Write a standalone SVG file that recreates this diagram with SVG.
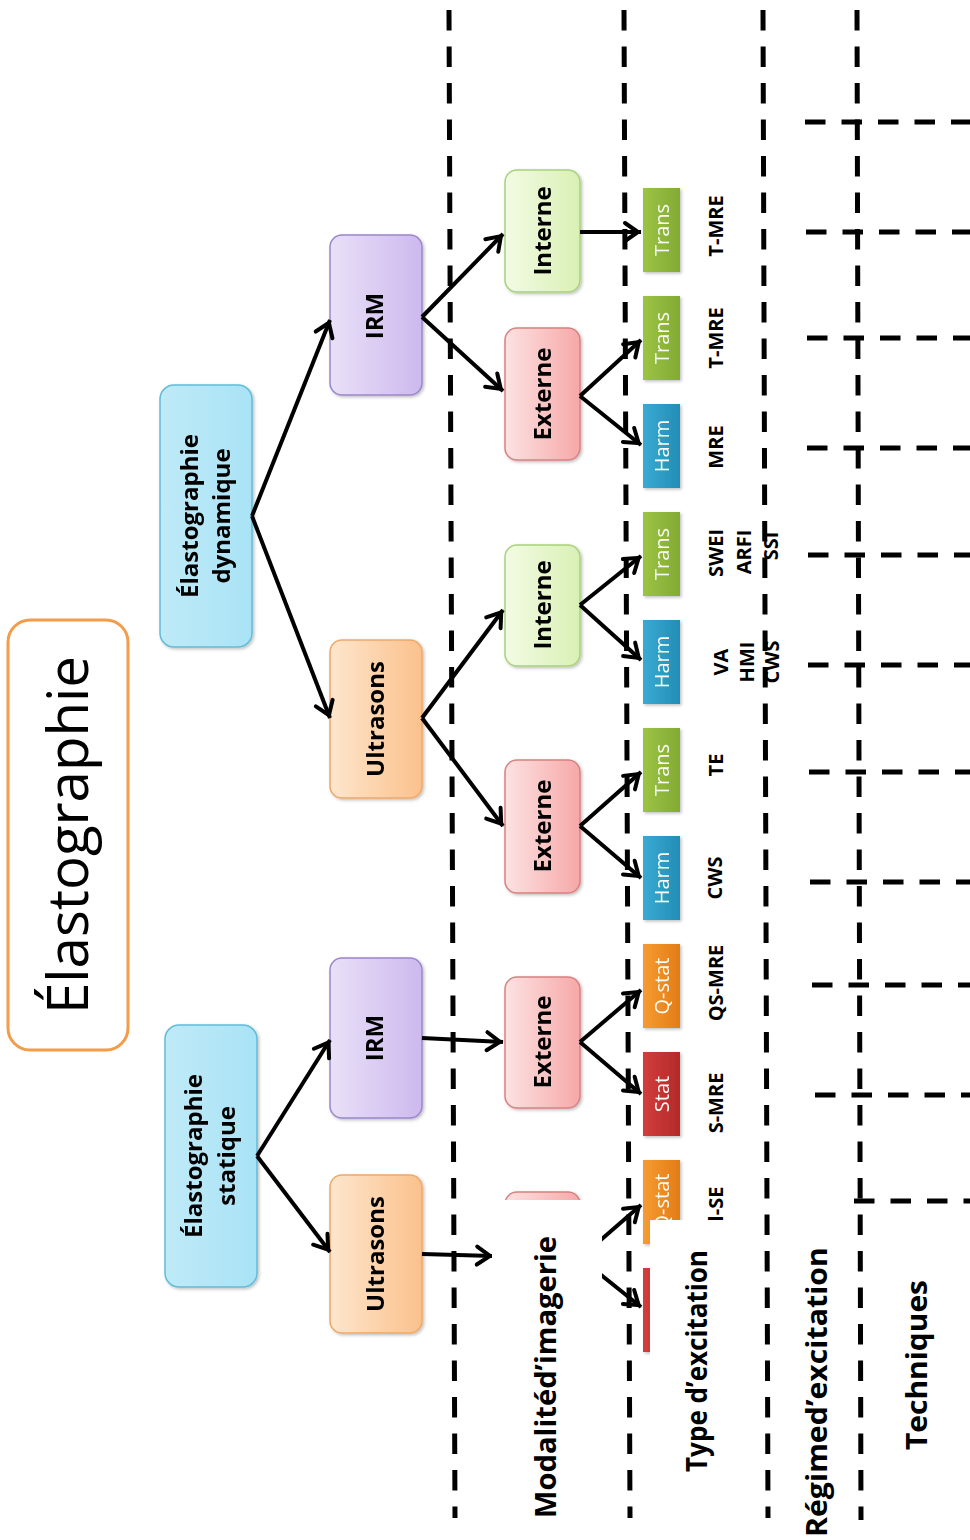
<svg xmlns="http://www.w3.org/2000/svg" width="970" height="1540" viewBox="0 0 970 1540">
<style>
.dash{stroke:#000;stroke-width:5;stroke-dasharray:20.5 16;fill:none}
.arr{stroke:#000;stroke-width:4;fill:none;marker-end:url(#ah)}
.nt{font-family:"Open Sans","Noto Sans","Liberation Sans",sans-serif;font-weight:bold;font-size:24px;fill:#000;text-anchor:middle}
.st{font-family:"Open Sans","Noto Sans","Liberation Sans",sans-serif;font-size:20px;fill:#fbfbf4;text-anchor:middle}
.tq{font-family:"Open Sans","Noto Sans","Liberation Sans",sans-serif;font-weight:bold;font-size:20px;fill:#000;text-anchor:middle}
.lb{font-family:"Open Sans","Noto Sans","Liberation Sans",sans-serif;font-weight:bold;font-size:28px;fill:#000;text-anchor:middle}
.cy{fill:url(#gCy);stroke:#62bcd8;stroke-width:1.5}
.pu{fill:url(#gPu);stroke:#9a86cc;stroke-width:1.5}
.or{fill:url(#gOr);stroke:#eea868;stroke-width:1.5}
.gr{fill:url(#gGr);stroke:#a8d27a;stroke-width:1.5}
.pk{fill:url(#gPk);stroke:#d98080;stroke-width:1.5}
.tr{fill:url(#gTr)}
.hm{fill:url(#gHm)}
.qs{fill:url(#gQs)}
.sa{fill:url(#gSa)}
</style>
<defs>
<linearGradient id="gCy" x1="0" y1="0" x2="1" y2="0"><stop offset="0" stop-color="#bfeaf7"/><stop offset="1" stop-color="#a9e3f6"/></linearGradient>
<linearGradient id="gPu" x1="0" y1="0" x2="1" y2="0"><stop offset="0" stop-color="#e9e0f8"/><stop offset="1" stop-color="#cdb9ee"/></linearGradient>
<linearGradient id="gOr" x1="0" y1="0" x2="1" y2="0"><stop offset="0" stop-color="#fde6cd"/><stop offset="1" stop-color="#fbc18c"/></linearGradient>
<linearGradient id="gGr" x1="0" y1="0" x2="1" y2="0"><stop offset="0" stop-color="#f3fbe4"/><stop offset="1" stop-color="#d9f0b4"/></linearGradient>
<linearGradient id="gPk" x1="0" y1="0" x2="1" y2="0"><stop offset="0" stop-color="#fde2e2"/><stop offset="1" stop-color="#f6a8a8"/></linearGradient>
<linearGradient id="gTr" x1="0" y1="0" x2="1" y2="0"><stop offset="0" stop-color="#9bc446"/><stop offset="1" stop-color="#83aa33"/></linearGradient>
<linearGradient id="gHm" x1="0" y1="0" x2="1" y2="0"><stop offset="0" stop-color="#3aaad2"/><stop offset="1" stop-color="#238db6"/></linearGradient>
<linearGradient id="gQs" x1="0" y1="0" x2="1" y2="0"><stop offset="0" stop-color="#f69b32"/><stop offset="1" stop-color="#e27d16"/></linearGradient>
<linearGradient id="gSa" x1="0" y1="0" x2="1" y2="0"><stop offset="0" stop-color="#d23d3d"/><stop offset="1" stop-color="#b32a2a"/></linearGradient>
<filter id="sh" x="-20%" y="-20%" width="140%" height="140%"><feDropShadow dx="1.5" dy="1.5" stdDeviation="1.5" flood-color="#000" flood-opacity="0.25"/></filter>
<marker id="ah" viewBox="-18 -10 20 20" markerWidth="20" markerHeight="20" refX="0" refY="0" orient="auto" markerUnits="userSpaceOnUse" overflow="visible">
<path d="M-16,-9 L-3,0 L-16,9" fill="none" stroke="#000" stroke-width="4" stroke-linejoin="miter" stroke-linecap="round"/>
</marker>
</defs>
<rect width="970" height="1540" fill="#fff"/>

<g id="grid">
<line class="dash" x1="449" y1="10" x2="455" y2="1518"/>
<line class="dash" x1="624" y1="10" x2="630" y2="1518"/>
<line class="dash" x1="763" y1="10" x2="768" y2="1518"/>
<line class="dash" x1="857" y1="10" x2="861" y2="1520"/>
<line class="dash" x1="805" y1="122" x2="975" y2="122"/>
<line class="dash" x1="806" y1="232" x2="975" y2="232"/>
<line class="dash" x1="807" y1="338" x2="975" y2="338"/>
<line class="dash" x1="807" y1="448" x2="975" y2="448"/>
<line class="dash" x1="808" y1="555" x2="975" y2="555"/>
<line class="dash" x1="808" y1="665" x2="975" y2="665"/>
<line class="dash" x1="809" y1="772" x2="975" y2="772"/>
<line class="dash" x1="810" y1="882" x2="975" y2="882"/>
<line class="dash" x1="812" y1="985" x2="975" y2="985"/>
<line class="dash" x1="815" y1="1095" x2="975" y2="1095"/>
<line class="dash" x1="854" y1="1201" x2="975" y2="1201"/>
</g>

<g id="title">
<rect x="8" y="620" width="120" height="430" rx="22" fill="#fff" stroke="#f39c4a" stroke-width="3"/>
<text transform="translate(88,835) rotate(-90)" font-family="'Open Sans','Noto Sans','Liberation Sans',sans-serif" font-size="57" text-anchor="middle" textLength="358" lengthAdjust="spacingAndGlyphs">Élastographie</text>
</g>

<g id="n-dyn" filter="url(#sh)">
<rect class="cy" x="160" y="385" width="92" height="262" rx="14"/>
<text class="nt" transform="translate(198,516) rotate(-90)">Élastographie</text>
<text class="nt" transform="translate(230,516) rotate(-90)">dynamique</text>
</g>
<g id="n-stat" filter="url(#sh)">
<rect class="cy" x="165" y="1025" width="92" height="262" rx="14"/>
<text class="nt" transform="translate(202,1156) rotate(-90)">Élastographie</text>
<text class="nt" transform="translate(235,1156) rotate(-90)">statique</text>
</g>

<g id="n-irm1" filter="url(#sh)">
<rect class="pu" x="330" y="235" width="92" height="160" rx="12"/>
<text class="nt" transform="translate(383,316) rotate(-90)">IRM</text>
</g>
<g id="n-us1" filter="url(#sh)">
<rect class="or" x="330" y="640" width="92" height="158" rx="12"/>
<text class="nt" transform="translate(384,719) rotate(-90)">Ultrasons</text>
</g>
<g id="n-irm2" filter="url(#sh)">
<rect class="pu" x="330" y="958" width="92" height="160" rx="12"/>
<text class="nt" transform="translate(383,1038) rotate(-90)">IRM</text>
</g>
<g id="n-us2" filter="url(#sh)">
<rect class="or" x="330" y="1175" width="92" height="158" rx="12"/>
<text class="nt" transform="translate(384,1254) rotate(-90)">Ultrasons</text>
</g>

<g id="n-int1" filter="url(#sh)">
<rect class="gr" x="505" y="170" width="75" height="122" rx="12"/>
<text class="nt" transform="translate(551,231) rotate(-90)">Interne</text>
</g>
<g id="n-ext1" filter="url(#sh)">
<rect class="pk" x="505" y="328" width="75" height="132" rx="12"/>
<text class="nt" transform="translate(551,394) rotate(-90)">Externe</text>
</g>
<g id="n-int2" filter="url(#sh)">
<rect class="gr" x="505" y="545" width="75" height="121" rx="12"/>
<text class="nt" transform="translate(551,605) rotate(-90)">Interne</text>
</g>
<g id="n-ext2" filter="url(#sh)">
<rect class="pk" x="505" y="760" width="75" height="133" rx="12"/>
<text class="nt" transform="translate(551,826) rotate(-90)">Externe</text>
</g>
<g id="n-ext3" filter="url(#sh)">
<rect class="pk" x="505" y="977" width="75" height="131" rx="12"/>
<text class="nt" transform="translate(551,1042) rotate(-90)">Externe</text>
</g>
<g id="n-ext4" filter="url(#sh)">
<rect class="pk" x="505" y="1192" width="75" height="130" rx="12"/>
</g>

<g id="n-t1" filter="url(#sh)"><rect class="tr" x="643" y="188" width="37" height="84"/><text class="st" transform="translate(669,230) rotate(-90)">Trans</text></g>
<g id="n-t2" filter="url(#sh)"><rect class="tr" x="643" y="296" width="37" height="84"/><text class="st" transform="translate(669,338) rotate(-90)">Trans</text></g>
<g id="n-h1" filter="url(#sh)"><rect class="hm" x="643" y="404" width="37" height="84"/><text class="st" transform="translate(669,446) rotate(-90)">Harm</text></g>
<g id="n-t3" filter="url(#sh)"><rect class="tr" x="643" y="512" width="37" height="84"/><text class="st" transform="translate(669,554) rotate(-90)">Trans</text></g>
<g id="n-h2" filter="url(#sh)"><rect class="hm" x="643" y="620" width="37" height="84"/><text class="st" transform="translate(669,662) rotate(-90)">Harm</text></g>
<g id="n-t4" filter="url(#sh)"><rect class="tr" x="643" y="728" width="37" height="84"/><text class="st" transform="translate(669,770) rotate(-90)">Trans</text></g>
<g id="n-h3" filter="url(#sh)"><rect class="hm" x="643" y="836" width="37" height="84"/><text class="st" transform="translate(669,878) rotate(-90)">Harm</text></g>
<g id="n-q1" filter="url(#sh)"><rect class="qs" x="643" y="944" width="37" height="84"/><text class="st" transform="translate(669,986) rotate(-90)">Q-stat</text></g>
<g id="n-s1" filter="url(#sh)"><rect class="sa" x="643" y="1052" width="37" height="84"/><text class="st" transform="translate(669,1094) rotate(-90)">Stat</text></g>
<g id="n-q2" filter="url(#sh)"><rect class="qs" x="643" y="1160" width="37" height="84"/><text class="st" transform="translate(669,1202) rotate(-90)">Q-stat</text></g>
<g id="n-s2" filter="url(#sh)"><rect class="sa" x="643" y="1268" width="37" height="84"/></g>

<g id="connectors">
<line class="arr" x1="252" y1="516" x2="330" y2="320"/>
<line class="arr" x1="252" y1="516" x2="330" y2="718"/>
<line class="arr" x1="422" y1="317" x2="503" y2="234"/>
<line class="arr" x1="422" y1="317" x2="503" y2="391"/>
<line class="arr" x1="422" y1="718" x2="503" y2="610"/>
<line class="arr" x1="422" y1="718" x2="503" y2="826"/>
<line class="arr" x1="580" y1="232" x2="641" y2="232"/>
<line class="arr" x1="580" y1="396" x2="641" y2="340"/>
<line class="arr" x1="580" y1="396" x2="641" y2="445"/>
<line class="arr" x1="580" y1="605" x2="641" y2="556"/>
<line class="arr" x1="580" y1="605" x2="641" y2="660"/>
<line class="arr" x1="580" y1="826" x2="641" y2="772"/>
<line class="arr" x1="580" y1="826" x2="641" y2="878"/>
<line class="arr" x1="257" y1="1156" x2="330" y2="1040"/>
<line class="arr" x1="257" y1="1156" x2="330" y2="1252"/>
<line class="arr" x1="422" y1="1038" x2="503" y2="1042"/>
<line class="arr" x1="580" y1="1042" x2="641" y2="990"/>
<line class="arr" x1="580" y1="1042" x2="641" y2="1094"/>
<line class="arr" x1="422" y1="1254" x2="493" y2="1256"/>
<line class="arr" x1="580" y1="1258" x2="641" y2="1205"/>
<line class="arr" x1="580" y1="1258" x2="641" y2="1307"/>
</g>

<g id="techniques">
<text class="tq" transform="translate(723,226) rotate(-90)">T-MRE</text>
<text class="tq" transform="translate(723,338) rotate(-90)">T-MRE</text>
<text class="tq" transform="translate(723,447) rotate(-90)">MRE</text>
<text class="tq" transform="translate(723,553) rotate(-90)">SWEI</text>
<text class="tq" transform="translate(751,552) rotate(-90)">ARFI</text>
<text class="tq" transform="translate(778,546) rotate(-90)">SSI</text>
<text class="tq" transform="translate(728,662) rotate(-90)">VA</text>
<text class="tq" transform="translate(754,662) rotate(-90)">HMI</text>
<text class="tq" transform="translate(779,662) rotate(-90)">CWS</text>
<text class="tq" transform="translate(723,765) rotate(-90)">TE</text>
<text class="tq" transform="translate(722,878) rotate(-90)">CWS</text>
<text class="tq" transform="translate(723,983) rotate(-90)">QS-MRE</text>
<text class="tq" transform="translate(723,1103) rotate(-90)">S-MRE</text>
<text class="tq" transform="translate(723,1204) rotate(-90)">l-SE</text>
</g>

<g id="overlays">
<rect x="492" y="1200" width="110" height="340" fill="#fff"/>
<rect x="650" y="1220" width="95" height="320" fill="#fff"/>
</g>

<g id="labels">
<text class="lb" transform="translate(556,1377) rotate(-90)" textLength="282" lengthAdjust="spacingAndGlyphs">Modalitéd’imagerie</text>
<text class="lb" transform="translate(707,1361) rotate(-90)" font-weight="600" textLength="222" lengthAdjust="spacingAndGlyphs">Type d’excitation</text>
<text class="lb" transform="translate(827,1392) rotate(-90)" textLength="290" lengthAdjust="spacingAndGlyphs">Régimed’excitation</text>
<text class="lb" transform="translate(927,1365) rotate(-90)" textLength="170" lengthAdjust="spacingAndGlyphs">Techniques</text>
</g>
</svg>
